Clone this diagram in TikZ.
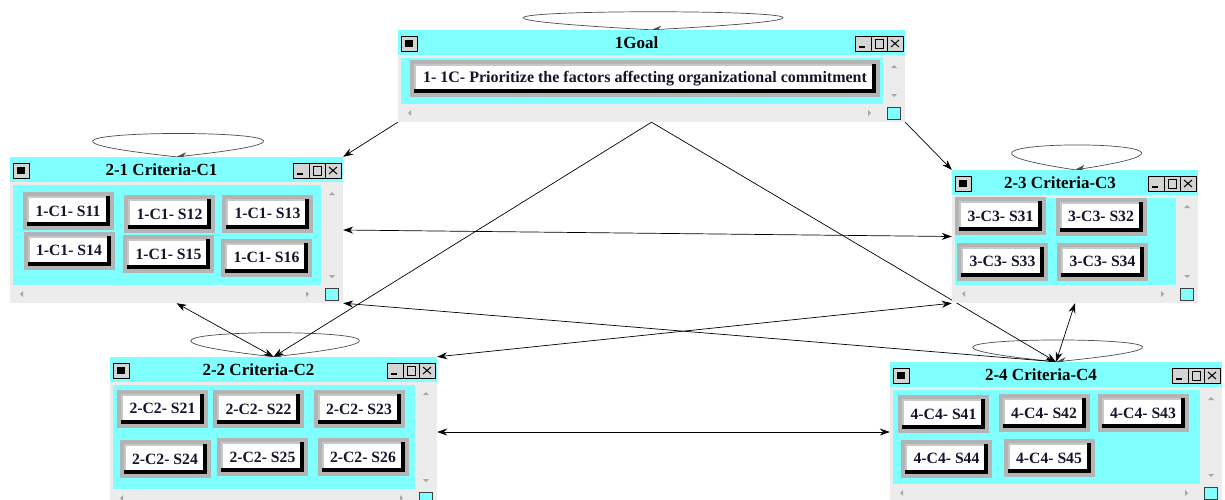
\documentclass[tikz,border=0pt]{standalone}
\usepackage{fontspec}
\setmainfont{Liberation Serif}
\usetikzlibrary{arrows.meta,calc,backgrounds}
\usepackage{xcolor}
\definecolor{wincyan}{HTML}{80FFFF}
\definecolor{wingray}{HTML}{ECECEC}
\definecolor{btnframe}{HTML}{B4B4B4}
\definecolor{bevel}{HTML}{C8C8C8}
\definecolor{sysgray}{HTML}{D4D4D4}
\definecolor{tickgray}{HTML}{A8A8A8}
\definecolor{inkblue}{HTML}{14142A}

% window chrome: name, top left x/y, bottom right x/y, title
\newcommand{\critwin}[6]{%
  \node[win, minimum width={#4-#2}, minimum height={#5-#3}] (#1) at ({(#2+#4)/2},{(#3+#5)/2}) {};
  \fill[wincyan] (#2,#3) rectangle (#4,{#3+25});
  \fill[wincyan] ({#2+3},{#3+28}) rectangle ({#4-22},{#5-18});
  \node[wintitle] (#1-title) at ({(#2+#4-30)/2},{#3+13}) {#6};
  \draw[sysbtn] ({#2+3},{#3+6}) rectangle ({#2+19},{#3+21});
  \fill ({#2+7},{#3+10}) rectangle ({#2+15},{#3+17});
  \draw[sysbtn] ({#4-50},{#3+6}) rectangle ({#4-34},{#3+21});
  \draw[sysbtn] ({#4-34},{#3+6}) rectangle ({#4-18},{#3+21});
  \draw[sysbtn] ({#4-18},{#3+6}) rectangle ({#4-2},{#3+21});
  \draw[line width=1.6pt] ({#4-46},{#3+17}) -- ({#4-40},{#3+17});
  \draw[line width=1pt] ({#4-30},{#3+9}) rectangle ({#4-22},{#3+18});
  \draw[line width=1pt] ({#4-14},{#3+10}) -- ({#4-6},{#3+17}) ({#4-14},{#3+17}) -- ({#4-6},{#3+10});
  \fill[tickgray] ({#4-14},{#3+38}) -- ({#4-8},{#3+38}) -- ({#4-11},{#3+35}) -- cycle;
  \fill[tickgray] ({#4-14},{#5-28}) -- ({#4-8},{#5-28}) -- ({#4-11},{#5-25}) -- cycle;
  \fill[tickgray] ({#2+10},{#5-9}) -- ({#2+13},{#5-12}) -- ({#2+13},{#5-6}) -- cycle;
  \fill[tickgray] ({#4-34},{#5-9}) -- ({#4-37},{#5-12}) -- ({#4-37},{#5-6}) -- cycle;
  \draw[cornerbox] ({#4-18},{#5-15}) rectangle ({#4-5},{#5-3});
}

\begin{document}
\begin{tikzpicture}[
    x=1pt, y=-1pt,
    win/.style={fill=wingray, inner sep=0pt},
    wintitle/.style={font=\fontsize{17}{20}\selectfont\bfseries, inner sep=0pt},
    sysbtn/.style={fill=sysgray, draw=black, line width=0.8pt},
    cornerbox/.style={fill=wincyan, draw=black!75, line width=1pt},
    btn/.style={fill=btnframe, minimum width=91pt, minimum height=38pt, inner sep=0pt,
        text=inkblue, font=\fontsize{15.7}{18}\selectfont\bfseries,
        path picture={
            \fill[black] ($(path picture bounding box.south west)+(4,-4)$) rectangle ($(path picture bounding box.north east)+(-4,4)$);
            \fill[bevel] ($(path picture bounding box.south west)+(4,-8)$) rectangle ($(path picture bounding box.north east)+(-8,4)$);
            \fill[white] ($(path picture bounding box.south west)+(6,-8)$) rectangle ($(path picture bounding box.north east)+(-8,6)$);
        }},
    arr/.style={-{Stealth[length=10pt, width=7pt]}, line width=0.7pt},
    both/.style={{Stealth[length=10pt, width=7pt]}-{Stealth[length=10pt, width=7pt]}, line width=0.7pt},
    selfloop/.style={arr, draw=black!70},
]
\useasboundingbox (0,0) rectangle (1225,499);

\critwin{goal}{398}{30}{905}{122}{1Goal}
\critwin{c1}{10}{157}{343}{303}{2-1 Criteria-C1}
\critwin{c3}{952}{170}{1198}{303}{2-3 Criteria-C3}
\critwin{c2}{110}{357}{437}{507}{2-2 Criteria-C2}
\critwin{c4}{890}{362}{1222}{502}{2-4 Criteria-C4}

\node[btn, minimum width=470pt, minimum height=37pt, font=\fontsize{16}{19}\selectfont\bfseries] (g1) at (645,78.5) {1- 1C- Prioritize the factors affecting organizational commitment};

\node[btn] (s11) at (68,211) {1-C1- S11};
\node[btn] (s12) at (169.5,214) {1-C1- S12};
\node[btn] (s13) at (267.5,213.5) {1-C1- S13};
\node[btn] (s14) at (69,250.5) {1-C1- S14};
\node[btn] (s15) at (168.5,254) {1-C1- S15};
\node[btn] (s16) at (266.5,257.5) {1-C1- S16};

\node[btn] (s31) at (1000.5,216) {3-C3- S31};
\node[btn] (s32) at (1101,216.5) {3-C3- S32};
\node[btn] (s33) at (1002.5,261.5) {3-C3- S33};
\node[btn] (s34) at (1102.5,261.5) {3-C3- S34};

\node[btn] (s21) at (162.5,408.5) {2-C2- S21};
\node[btn] (s22) at (258.5,409) {2-C2- S22};
\node[btn] (s23) at (359,409) {2-C2- S23};
\node[btn] (s24) at (165,459) {2-C2- S24};
\node[btn] (s25) at (262.5,457) {2-C2- S25};
\node[btn] (s26) at (363,457) {2-C2- S26};

\node[btn] (s41) at (943.5,414) {4-C4- S41};
\node[btn] (s42) at (1044,413) {4-C4- S42};
\node[btn] (s43) at (1143,413) {4-C4- S43};
\node[btn] (s44) at (946.5,458.5) {4-C4- S44};
\node[btn] (s45) at (1049,458) {4-C4- S45};

\begin{scope}[on background layer]
\fill[white] (0,0) rectangle (1225,499);
% self loops
\draw[selfloop] (goal.north) .. controls +(-445,-24) and +(445,-24) .. (goal.north);
\draw[selfloop] (c1.north) .. controls +(-291,-31) and +(291,-31) .. (c1.north);
\draw[selfloop] (c3.north) .. controls +(-220,-33) and +(220,-33) .. (c3.north);
\draw[selfloop] (c2.north) .. controls +(-287,-32) and +(287,-32) .. (c2.north);
\draw[selfloop] (c4.north) .. controls +(-289,-29) and +(289,-29) .. (c4.north);
% links
\draw[arr] (goal.south west) -- (c1.north east);
\draw[arr] (goal.south east) -- (c3.north west);
\draw[arr] (goal.south) -- (c2.north);
\draw[arr] (goal.south) -- (c4.north);
\draw[both] (c1.east) -- (c3.west);
\draw[both] (c1.south) -- (c2.north);
\draw[both] (c1.south east) -- (c4.north);
\draw[both] (c2.north east) -- (c3.south west);
\draw[both] (c2.east) -- (c4.west);
\draw[both] (c3.south) -- (c4.north);
\end{scope}

\end{tikzpicture}
\end{document}
